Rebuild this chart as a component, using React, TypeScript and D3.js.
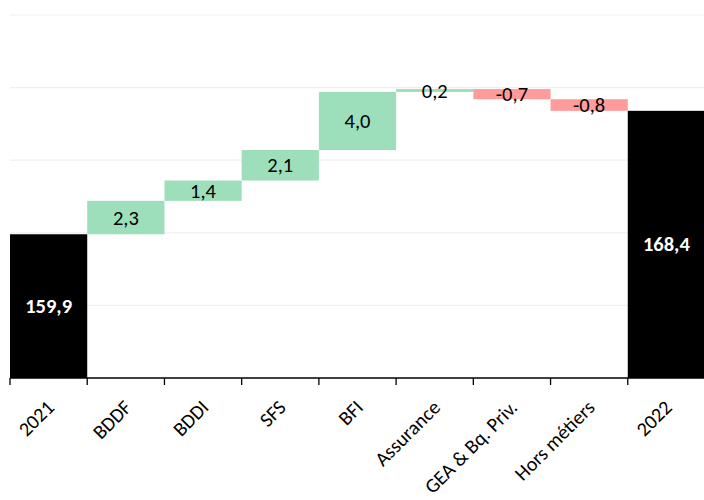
import { useMemo } from 'react'
import * as d3 from 'd3'

const categories = ['2021', 'BDDF', 'BDDI', 'SFS', 'BFI', 'Assurance', 'GEA & Bq. Priv.', 'Hors métiers', '2022']
const startValue = 159.9
const deltas = [2.3, 1.4, 2.1, 4.0, 0.2, -0.7, -0.8]
const endValue = 168.4
const yTicks = [150, 155, 160, 165, 170, 175]

const WIDTH = 704
const HEIGHT = 500
const FONT = "Carlito, Calibri, 'Noto Sans', sans-serif"

type Step = { name: string; y0: number; y1: number; kind: 'total' | 'up' | 'down'; label: string }

const fmt = (v: number) => v.toFixed(1).replace('.', ',')

export default function App() {
  const steps = useMemo<Step[]>(() => {
    const out: Step[] = [{ name: categories[0], y0: 150, y1: startValue, kind: 'total', label: fmt(startValue) }]
    let acc = startValue
    deltas.forEach((d, i) => {
      out.push({ name: categories[i + 1], y0: acc, y1: acc + d, kind: d >= 0 ? 'up' : 'down', label: fmt(d) })
      acc += d
    })
    out.push({ name: categories[categories.length - 1], y0: 150, y1: endValue, kind: 'total', label: fmt(endValue) })
    return out
  }, [])

  const x = d3.scaleBand<string>().domain(categories).range([10, 705]).padding(0)
  const y = d3.scaleLinear().domain([150, 175]).range([378, 15])
  const bw = x.bandwidth()
  const color = { total: '#000000', up: '#9DDFBB', down: '#FF9B9B' }

  const boundaries = categories.map((c) => x(c)!).concat([705])

  return (
    <svg width={WIDTH} height={HEIGHT} style={{ position: 'absolute', left: 0, top: 0 }} fontFamily={FONT}>
      {yTicks.slice(1).map((t) => (
        <line key={t} x1={10} x2={WIDTH} y1={y(t)} y2={y(t)} stroke="#efefef" strokeWidth={1.2} />
      ))}
      {steps.map((s) => {
        const top = y(Math.max(s.y0, s.y1))
        const bot = y(Math.min(s.y0, s.y1))
        const cx = x(s.name)! + bw / 2
        const cy = (top + bot) / 2
        return (
          <g key={s.name}>
            <rect x={x(s.name)!} y={top} width={bw} height={Math.max(1, bot - top)} fill={color[s.kind]} />
            <text
              x={cx}
              y={cy}
              textAnchor="middle"
              dominantBaseline="central"
              fontSize={20.5}
              fontWeight={s.kind === 'total' ? 'bold' : 'normal'}
              fill={s.kind === 'total' ? '#ffffff' : '#000000'}
            >
              {s.label}
            </text>
          </g>
        )
      })}
      <line x1={10} x2={WIDTH} y1={y(150)} y2={y(150)} stroke="#000" strokeWidth={1.3} />
      {boundaries.map((b, i) => (
        <line key={i} x1={b} x2={b} y1={y(150)} y2={y(150) + 7} stroke="#000" strokeWidth={1.3} />
      ))}
      {categories.map((c) => (
        <text
          key={c}
          transform={`translate(${x(c)! + bw / 2 - 4},${398}) rotate(-45)`}
          textAnchor="end"
          dominantBaseline="hanging"
          fontSize={20}
          fill="#000"
        >
          {c}
        </text>
      ))}
    </svg>
  )
}
